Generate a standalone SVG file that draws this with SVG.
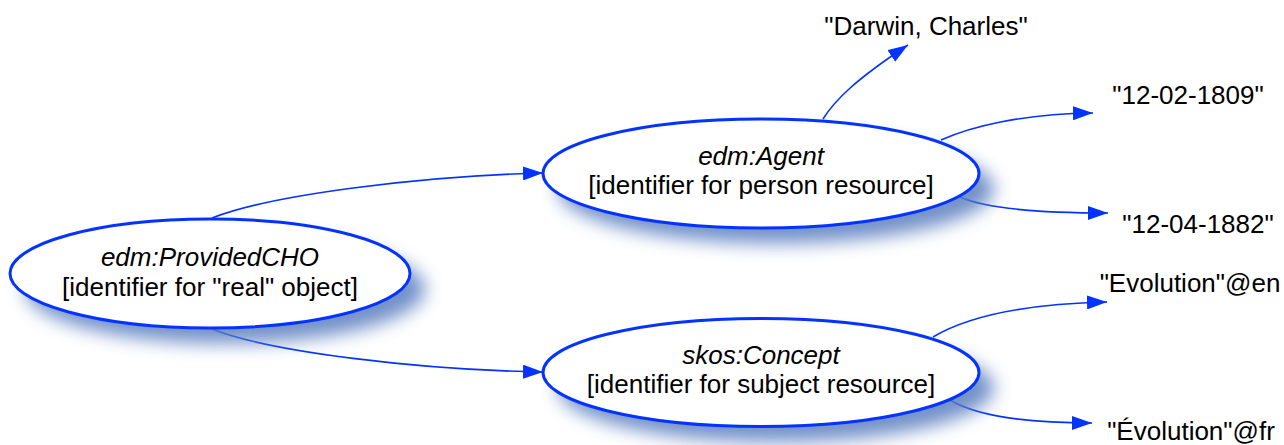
<svg xmlns="http://www.w3.org/2000/svg" width="1284" height="445" viewBox="0 0 1284 445">
<style>
.node{fill:#ffffff;stroke:#0433ff;stroke-width:3}
.shadow{fill:#5a7ec0;opacity:0.85;filter:url(#blur)}
.t{font-family:"Liberation Sans",Arial,Helvetica,sans-serif;font-size:26px;fill:#000;text-anchor:middle}
.i{font-style:italic}
.edge{fill:none;stroke:#0433ff;stroke-width:1.6;marker-end:url(#arrow)}
</style>
<defs>
<filter id="blur" x="-20%" y="-40%" width="140%" height="180%">
<feGaussianBlur stdDeviation="9"/>
</filter>
<marker id="arrow" markerUnits="userSpaceOnUse" markerWidth="20" markerHeight="14" refX="20" refY="7" orient="auto">
<path d="M0,0 L20,7 L0,14 z" fill="#0433ff"/>
</marker>
</defs>
<rect width="1284" height="445" fill="#ffffff"/>
<g id="connectors">
<path class="edge" d="M212,218 C270,195 420,176 543,173"/>
<path class="edge" d="M212,329 C270,352 420,370 543,372"/>
<path class="edge" d="M823,119 C835,100 855,80 908,45"/>
<path class="edge" d="M941,140 C970,127 1020,114 1093,113"/>
<path class="edge" d="M960,197 C985,208 1030,213 1108,213"/>
<path class="edge" d="M933,337 C965,318 1020,304 1107,302"/>
<path class="edge" d="M950,400 C975,415 1020,423 1092,423"/>
</g>
<g id="providedcho">
<ellipse class="shadow" cx="225" cy="289" rx="200" ry="54.5"/>
<ellipse class="node" cx="210" cy="273.5" rx="200" ry="54.5"/>
<text class="t i" x="210" y="266">edm:ProvidedCHO</text>
<text class="t" x="210" y="296">[identifier for "real" object]</text>
</g>
<g id="agent">
<ellipse class="shadow" cx="776" cy="189" rx="218" ry="54.5"/>
<ellipse class="node" cx="761" cy="173.5" rx="218" ry="54.5"/>
<text class="t i" x="761" y="165">edm:Agent</text>
<text class="t" x="761" y="194">[identifier for person resource]</text>
</g>
<g id="concept">
<ellipse class="shadow" cx="776" cy="388" rx="218" ry="54"/>
<ellipse class="node" cx="761" cy="372.5" rx="218" ry="54"/>
<text class="t i" x="761" y="364">skos:Concept</text>
<text class="t" x="761" y="393">[identifier for subject resource]</text>
</g>
<g id="lit-name"><text class="t" x="926" y="35">"Darwin, Charles"</text></g>
<g id="lit-birth"><text class="t" x="1188" y="104">"12-02-1809"</text></g>
<g id="lit-death"><text class="t" x="1198" y="233">"12-04-1882"</text></g>
<g id="lit-en"><text class="t" x="1190" y="292">"Evolution"@en</text></g>
<g id="lit-fr"><text class="t" x="1191" y="440">"Évolution"@fr</text></g>
</svg>
